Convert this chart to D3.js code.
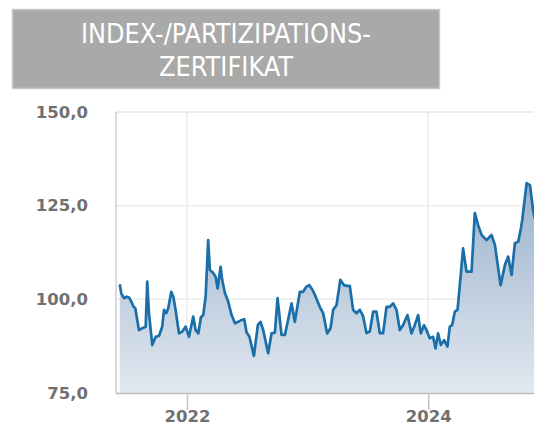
<!DOCTYPE html>
<html>
<head>
<meta charset="utf-8">
<script src="https://cdn.jsdelivr.net/npm/d3@7.9.0/dist/d3.min.js"></script>
<style>
  html, body { margin: 0; padding: 0; background: #fff; overflow: hidden; }
</style>
</head>
<body>
<div id="chart"></div>
<script>
// title lines
const titleLines = ["INDEX-/PARTIZIPATIONS-", "ZERTIFIKAT"];

// time as decimal years
const years = [
  2021.443, 2021.456, 2021.478, 2021.501, 2021.522, 2021.539, 2021.555, 2021.572, 2021.588, 2021.602,
  2021.630, 2021.658, 2021.671, 2021.685, 2021.713, 2021.741, 2021.768, 2021.795, 2021.810, 2021.829,
  2021.845, 2021.870, 2021.887, 2021.906, 2021.934, 2021.961, 2021.989, 2022.017, 2022.052, 2022.072,
  2022.094, 2022.116, 2022.135, 2022.155, 2022.176, 2022.190, 2022.218, 2022.238, 2022.254, 2022.279,
  2022.292, 2022.315, 2022.342, 2022.370, 2022.398, 2022.425, 2022.453, 2022.475, 2022.494, 2022.518,
  2022.555, 2022.588, 2022.610, 2022.632, 2022.673, 2022.701, 2022.729, 2022.751, 2022.784, 2022.812,
  2022.867, 2022.894, 2022.936, 2022.963, 2022.991, 2023.013, 2023.041, 2023.060, 2023.101, 2023.129,
  2023.162, 2023.190, 2023.212, 2023.240, 2023.271, 2023.300, 2023.325, 2023.350, 2023.377, 2023.405,
  2023.433, 2023.460, 2023.488, 2023.516, 2023.543, 2023.571, 2023.598, 2023.626, 2023.654, 2023.681,
  2023.709, 2023.737, 2023.764, 2023.791, 2023.828, 2023.861, 2023.888, 2023.916, 2023.938, 2023.965,
  2023.985, 2024.012, 2024.040, 2024.060, 2024.081, 2024.104, 2024.131, 2024.159, 2024.178, 2024.197,
  2024.220, 2024.242, 2024.261, 2024.288, 2024.316, 2024.358, 2024.385, 2024.412, 2024.441, 2024.482,
  2024.523, 2024.551, 2024.598, 2024.634, 2024.661, 2024.689, 2024.716, 2024.744, 2024.766, 2024.777,
  2024.813, 2024.841, 2024.868, 2024.890
];

const values = [
  104.0, 101.6, 100.3, 100.7, 100.4, 99.4, 98.2, 97.6, 94.5, 91.8,
  92.3, 92.7, 104.7, 96.3, 87.8, 90.0, 90.2, 92.7, 97.2, 96.3,
  97.6, 102.0, 100.7, 97.2, 90.9, 91.4, 92.7, 90.0, 95.4, 91.8,
  90.9, 95.2, 95.8, 100.7, 115.8, 107.8, 107.0, 106.0, 102.9, 108.7,
  105.2, 101.6, 99.4, 95.8, 93.6, 94.0, 94.5, 94.7, 91.2, 90.0,
  84.9, 93.2, 94.0, 91.8, 85.6, 90.9, 91.1, 100.3, 90.5, 90.5,
  98.9, 94.0, 102.0, 102.0, 103.4, 103.8, 102.5, 101.2, 98.0, 96.3,
  90.9, 92.3, 97.2, 98.5, 105.2, 103.8, 103.6, 103.6, 97.2, 96.3,
  97.2, 95.5, 91.0, 91.4, 96.7, 96.7, 91.0, 91.0, 98.0, 98.0,
  98.9, 97.2, 91.8, 93.1, 95.8, 90.9, 93.1, 95.8, 90.9, 93.1,
  91.8, 89.6, 90.0, 86.9, 90.9, 87.8, 89.1, 87.4, 92.7, 93.1,
  96.7, 97.2, 103.8, 113.6, 107.4, 107.4, 123.0, 119.8, 117.2, 115.8,
  117.2, 114.5, 103.8, 109.2, 111.4, 106.5, 115.0, 115.4, 119.0, 121.2,
  131.0, 130.5, 123.4, 120.5
];

const yTicks = [75, 100, 125, 150];
const xTicks = [2022, 2024];

// decimal year -> Date
function toDate(yv) {
  const yr = Math.floor(yv);
  const start = Date.UTC(yr, 0, 1), end = Date.UTC(yr + 1, 0, 1);
  return new Date(start + (yv - yr) * (end - start));
}

const data = years.map((yv, i) => ({ date: toDate(yv), value: values[i] }));

const svgW = 560, svgH = 429;
const svg = d3.select("#chart").append("svg")
  .attr("width", svgW)
  .attr("height", svgH)
  .style("font-family", "'DejaVu Sans', sans-serif");

// title box
svg.append("rect")
  .attr("x", 12.5).attr("y", 9.5)
  .attr("width", 427).attr("height", 79)
  .attr("fill", "#a9a9a9")
  .attr("stroke", "#c9c9c9")
  .attr("stroke-width", 1.5);

const titleW = [290, 134];
titleLines.forEach((t, i) => {
  svg.append("text")
    .attr("x", 226)
    .attr("y", 43 + i * 33)
    .attr("text-anchor", "middle")
    .attr("fill", "#fff")
    .attr("font-family", "'DejaVu Sans Condensed', 'DejaVu Sans', sans-serif")
    .attr("font-size", 26)
    .attr("textLength", titleW[i])
    .attr("lengthAdjust", "spacingAndGlyphs")
    .text(t);
});

// plot area
const plotL = 116, plotT = 112, plotB = 393, plotR = 545;

const x = d3.scaleTime()
  .domain([toDate(2021.412), toDate(2024.965)])
  .range([plotL, plotR]);
const y = d3.scaleLinear()
  .domain([75, 150])
  .range([plotB, plotT]);

// gradient for the area
const defs = svg.append("defs");
const grad = defs.append("linearGradient")
  .attr("id", "areaGrad")
  .attr("x1", 0).attr("y1", 0).attr("x2", 0).attr("y2", 1);
grad.append("stop").attr("offset", "0%").attr("stop-color", "#9bb2cc");
grad.append("stop").attr("offset", "100%").attr("stop-color", "#e1e8f0");

// grid
const g = svg.append("g");
g.selectAll(".hgrid")
  .data(yTicks.filter(d => d > 75 && d < 150))
  .enter().append("line")
  .attr("x1", plotL).attr("x2", plotR)
  .attr("y1", d => y(d)).attr("y2", d => y(d))
  .attr("stroke", "#ececec")
  .attr("stroke-width", 1.5);

g.selectAll(".vgrid")
  .data(xTicks)
  .enter().append("line")
  .attr("x1", d => x(toDate(d))).attr("x2", d => x(toDate(d)))
  .attr("y1", plotT).attr("y2", plotB)
  .attr("stroke", "#ececec")
  .attr("stroke-width", 1.5);

// top frame line
g.append("line")
  .attr("x1", plotL).attr("x2", plotR)
  .attr("y1", plotT).attr("y2", plotT)
  .attr("stroke", "#e6e6e6")
  .attr("stroke-width", 1.5);

// area + line
const area = d3.area()
  .x(d => x(d.date))
  .y0(plotB)
  .y1(d => y(d.value));
const line = d3.line()
  .x(d => x(d.date))
  .y(d => y(d.value));

g.append("path")
  .datum(data)
  .attr("d", area)
  .attr("fill", "url(#areaGrad)");

g.append("path")
  .datum(data)
  .attr("d", line)
  .attr("fill", "none")
  .attr("stroke", "#1a6fa9")
  .attr("stroke-width", 2.7)
  .attr("stroke-linejoin", "round");

// left frame line
g.append("line")
  .attr("x1", plotL).attr("x2", plotL)
  .attr("y1", plotT).attr("y2", plotB)
  .attr("stroke", "#cfcfcf")
  .attr("stroke-width", 1.5);

// x axis
const xAxis = svg.append("g")
  .attr("transform", `translate(0,${plotB})`)
  .call(d3.axisBottom(x)
    .tickValues(xTicks.map(toDate))
    .tickSize(17)
    .tickPadding(9)
    .tickFormat(d3.timeFormat("%Y")));
xAxis.select(".domain")
  .attr("d", `M${plotL},0.5H${plotR}`)
  .attr("stroke", "#bdbdbd")
  .attr("stroke-width", 1.5);
xAxis.selectAll(".tick line")
  .attr("stroke", "#c4c4c4")
  .attr("stroke-width", 1.5);
xAxis.selectAll(".tick text")
  .attr("fill", "#707070")
  .attr("font-size", 16.5)
  .attr("font-weight", "bold")
  .attr("font-family", "'DejaVu Sans', sans-serif")
  .attr("dy", "0.2em");

// y axis labels
const yAxis = svg.append("g")
  .attr("transform", `translate(${plotL},0)`)
  .call(d3.axisLeft(y)
    .tickValues(yTicks)
    .tickSize(0)
    .tickPadding(28)
    .tickFormat(d => d3.format(".1f")(d).replace(".", ",")));
yAxis.select(".domain").remove();
yAxis.selectAll(".tick text")
  .attr("fill", "#707070")
  .attr("font-size", 16.5)
  .attr("font-weight", "bold")
  .attr("font-family", "'DejaVu Sans', sans-serif");
</script>
</body>
</html>
